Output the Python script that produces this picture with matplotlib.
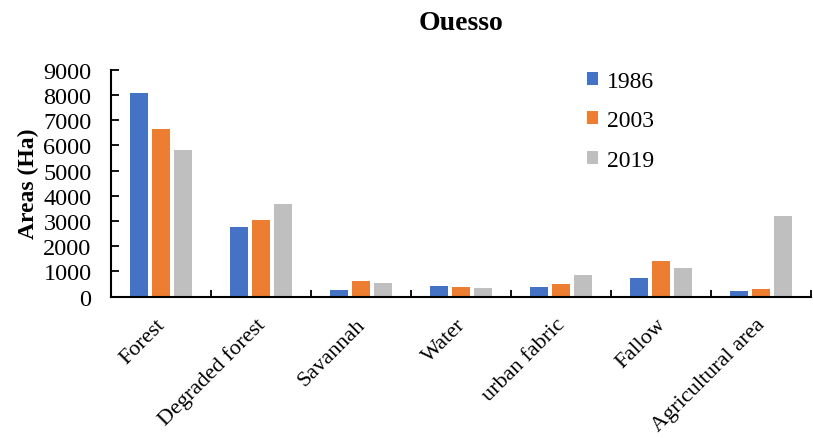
import numpy as np
import matplotlib.pyplot as plt
from matplotlib.transforms import ScaledTranslation

plt.rcParams['font.family'] = ['Liberation Serif', 'DejaVu Serif']

categories = ['Forest', 'Degraded forest', 'Savannah', 'Water',
              'urban fabric', 'Fallow', 'Agricultural area']
years = ['1986', '2003', '2019']
area_1986 = [8090, 2750, 260, 410, 400, 750, 240]
area_2003 = [6640, 3030, 610, 400, 490, 1430, 290]
area_2019 = [5800, 3660, 530, 360, 850, 1120, 3190]
colors = ['#4472C4', '#ED7D31', '#BFBFBF']

fig = plt.figure(figsize=(8.13, 4.39), dpi=100)
ax = fig.add_axes([0.1365, 0.322, 0.861, 0.517])

x = np.arange(len(categories))
w = 0.18
step = 0.223
for i, (vals, c, lab) in enumerate(zip([area_1986, area_2003, area_2019], colors, years)):
    ax.bar(x + (i - 1) * step, vals, width=w, color=c, label=lab)

ax.set_xlim(-0.5, len(categories) - 0.5)
ax.set_ylim(0, 9000)
ax.set_yticks(range(0, 9001, 1000))
ax.tick_params(axis='y', labelsize=17.5, length=6, width=1.3, direction='in', pad=14)
ax.set_xticks(np.arange(len(categories) + 1) - 0.5, minor=True)
ax.set_xticks(x)
ax.set_xticklabels(categories, rotation=45, ha='right', rotation_mode='anchor', fontsize=16)
ax.tick_params(axis='x', which='major', length=0, pad=8)
ax.tick_params(axis='x', which='minor', length=5, width=1.3, direction='in')

# nudge the slanted category labels
shift = ScaledTranslation(-0.05, -0.07, fig.dpi_scale_trans)
for lbl in ax.get_xticklabels():
    lbl.set_transform(lbl.get_transform() + shift)

for s in ['top', 'right']:
    ax.spines[s].set_visible(False)
for s in ['left', 'bottom']:
    ax.spines[s].set_linewidth(1.5)

ax.set_ylabel('Areas (Ha)', fontsize=17, fontweight='bold', labelpad=3)
fig.suptitle('Ouesso', fontsize=20, fontweight='bold', x=0.567, y=0.975)

fig.legend(loc='upper left', bbox_to_anchor=(0.696, 0.885), frameon=False,
           fontsize=17, handlelength=0.45, handleheight=0.45, handletextpad=0.4,
           labelspacing=0.78)

fig.savefig('out.png', dpi=100)
